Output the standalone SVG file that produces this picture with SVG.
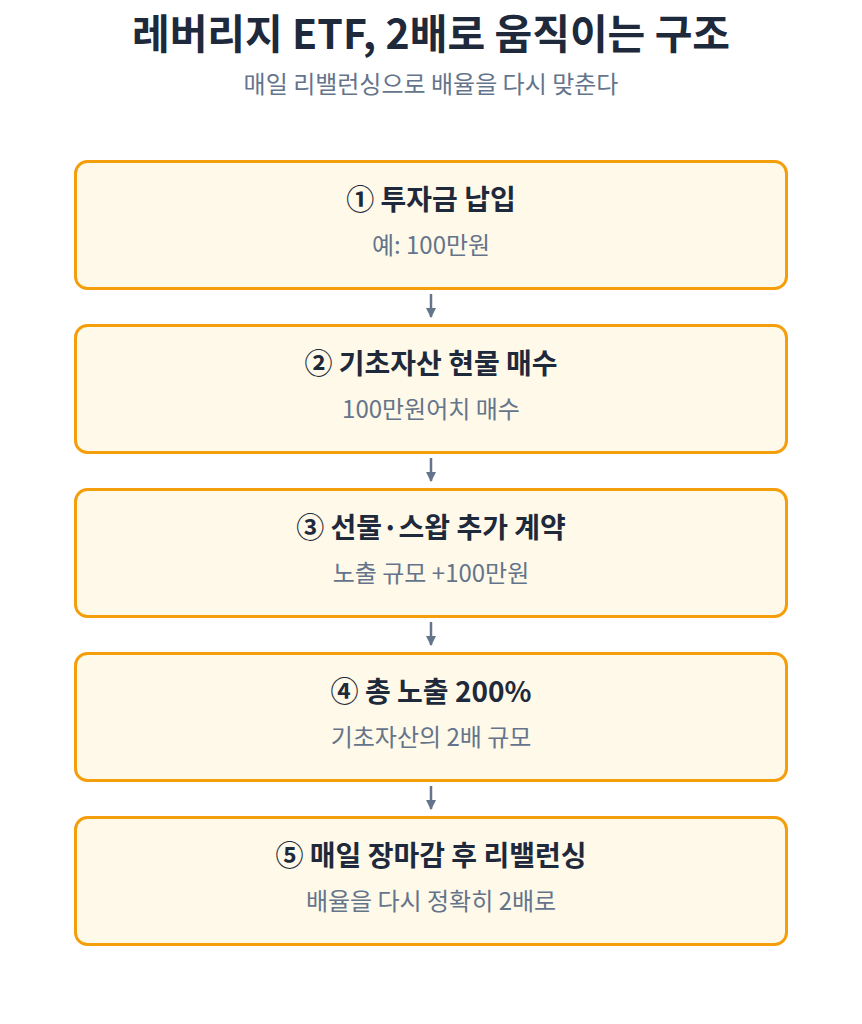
<svg xmlns="http://www.w3.org/2000/svg" width="862" height="1024" viewBox="0 0 862 1024">
<defs>
<style>
.box{fill:#FEF9E8;stroke:#F59E0B;stroke-width:3}
.t{font-family:"Noto Sans CJK KR","Noto Sans",sans-serif;font-size:28px;font-weight:700;fill:#1E293B;text-anchor:middle}
.s{font-family:"Noto Sans CJK KR","Noto Sans",sans-serif;font-size:24px;fill:#64748B;text-anchor:middle}
.c{stroke:#64748B;stroke-width:2.5;fill:none;marker-end:url(#ah)}
</style>
<marker id="ah" viewBox="0 0 10 10" refX="9" refY="5" markerWidth="4" markerHeight="4" orient="auto" markerUnits="strokeWidth">
<path d="M0,0 L10,5 L0,10 z" fill="#64748B"/>
</marker>
</defs>
<rect width="862" height="1024" fill="#FFFFFF"/>
<text x="431" y="49" font-family="'Noto Sans CJK KR','Noto Sans',sans-serif" font-size="41" font-weight="700" fill="#1E293B" text-anchor="middle">레버리지 ETF, 2배로 움직이는 구조</text>
<text x="431" y="93" class="s">매일 리밸런싱으로 배율을 다시 맞춘다</text>
<g id="connectors">
<line class="c" x1="431" y1="294" x2="431" y2="317"/>
<line class="c" x1="431" y1="458" x2="431" y2="481"/>
<line class="c" x1="431" y1="622" x2="431" y2="645"/>
<line class="c" x1="431" y1="786" x2="431" y2="809"/>
</g>
<g id="n1"><rect class="box" x="75.5" y="161.5" width="711" height="127" rx="12"/><text class="t" x="431" y="210">① 투자금 납입</text><text class="s" x="431" y="254">예: 100만원</text></g>
<g id="n2"><rect class="box" x="75.5" y="325.5" width="711" height="127" rx="12"/><text class="t" x="431" y="374">② 기초자산 현물 매수</text><text class="s" x="431" y="418">100만원어치 매수</text></g>
<g id="n3"><rect class="box" x="75.5" y="489.5" width="711" height="127" rx="12"/><text class="t" x="431" y="538">③ 선물·스왑 추가 계약</text><text class="s" x="431" y="582">노출 규모 +100만원</text></g>
<g id="n4"><rect class="box" x="75.5" y="653.5" width="711" height="127" rx="12"/><text class="t" x="431" y="702">④ 총 노출 200%</text><text class="s" x="431" y="746">기초자산의 2배 규모</text></g>
<g id="n5"><rect class="box" x="75.5" y="817.5" width="711" height="127" rx="12"/><text class="t" x="431" y="866">⑤ 매일 장마감 후 리밸런싱</text><text class="s" x="431" y="910">배율을 다시 정확히 2배로</text></g>
</svg>
